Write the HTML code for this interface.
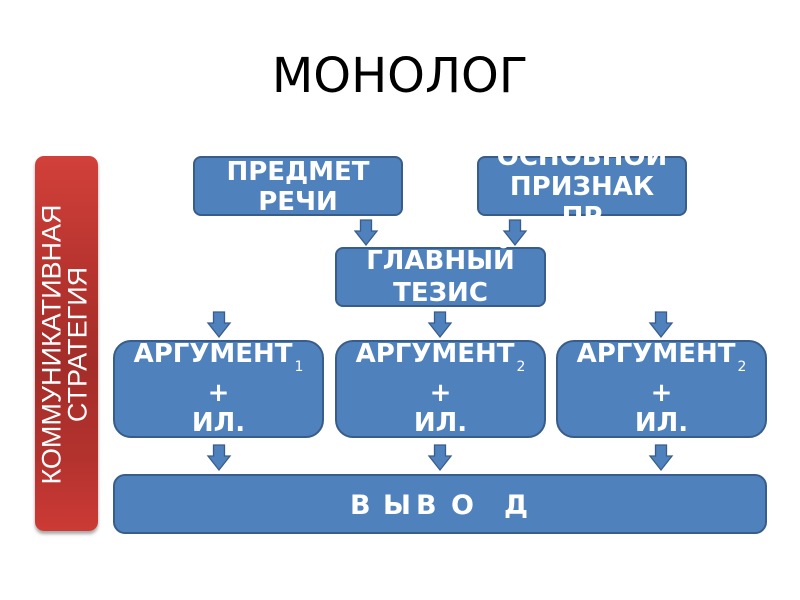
<!DOCTYPE html>
<html>
<head>
<meta charset="utf-8">
<style>
  html,body{margin:0;padding:0;background:#fff;}
  body{width:800px;height:600px;position:relative;overflow:hidden;}
  .abs{position:absolute;}
  .box{position:absolute;box-sizing:border-box;background:#4f81bd;border:2px solid #385d8a;}
  .t{position:absolute;color:#fff;font-family:"DejaVu Sans","Liberation Sans",sans-serif;font-weight:bold;font-size:26px;line-height:30px;text-align:center;white-space:nowrap;}
  .sub{font-weight:normal;font-size:14px;position:relative;top:9px;margin-left:2px;}
  .title{position:absolute;left:0;width:800px;top:48px;text-align:center;font-family:"DejaVu Sans","Liberation Sans",sans-serif;font-size:48px;line-height:56px;color:#000;}
  .red{position:absolute;left:35px;top:156px;width:63px;height:375px;border-radius:9px;
       background:linear-gradient(to bottom,#d2403a 0%,#b8342f 30%,#a42d29 55%,#b3322e 80%,#cc3a35 100%);
       box-shadow:0 3px 3px rgba(0,0,0,0.35);}
  .redtxt{position:absolute;left:-124.75px;top:318.5px;width:380px;height:51px;transform:rotate(-90deg);transform-origin:50% 50%;
          color:#fff;font-family:"Liberation Sans",sans-serif;font-size:27px;line-height:25.5px;text-align:center;white-space:nowrap;}
  .v{position:absolute;top:491px;color:#fff;font-family:"DejaVu Sans","Liberation Sans",sans-serif;font-weight:bold;font-size:27px;line-height:30px;}
</style>
</head>
<body>

<div class="title">МОНОЛОГ</div>

<div class="red"></div>
<div class="redtxt">КОММУНИКАТИВНАЯ<br>СТРАТЕГИЯ</div>

<!-- top boxes -->
<div class="box" style="left:193px;top:156px;width:210px;height:60px;border-radius:8px;"></div>
<div class="t" style="left:193px;width:210px;top:157px;">ПРЕДМЕТ</div>
<div class="t" style="left:193px;width:210px;top:187px;">РЕЧИ</div>

<div class="box" style="left:477px;top:156px;width:210px;height:60px;border-radius:8px;"></div>
<div class="abs" style="left:477px;top:152px;width:210px;height:65px;overflow:hidden;">
  <div class="t" style="left:0;width:210px;top:-10px;">ОСНОВНОЙ</div>
  <div class="t" style="left:0;width:210px;top:20px;">ПРИЗНАК</div>
  <div class="t" style="left:0;width:210px;top:50px;">ПР</div>
</div>

<div class="box" style="left:335px;top:247px;width:211px;height:60px;border-radius:8px;"></div>
<div class="t" style="left:335px;width:211px;top:246px;">ГЛАВНЫЙ</div>
<div class="t" style="left:335px;width:211px;top:278px;">ТЕЗИС</div>

<!-- argument boxes -->
<div class="box" style="left:113px;top:340px;width:211px;height:98px;border-radius:18px;"></div>
<div class="t" style="left:113px;width:211px;top:339px;">АРГУМЕНТ<span class="sub">1</span></div>
<div class="t" style="left:113px;width:211px;top:378px;">+</div>
<div class="t" style="left:113px;width:211px;top:408px;">ИЛ.</div>

<div class="box" style="left:335px;top:340px;width:211px;height:98px;border-radius:18px;"></div>
<div class="t" style="left:335px;width:211px;top:339px;">АРГУМЕНТ<span class="sub">2</span></div>
<div class="t" style="left:335px;width:211px;top:378px;">+</div>
<div class="t" style="left:335px;width:211px;top:408px;">ИЛ.</div>

<div class="box" style="left:556px;top:340px;width:211px;height:98px;border-radius:18px;"></div>
<div class="t" style="left:556px;width:211px;top:339px;">АРГУМЕНТ<span class="sub">2</span></div>
<div class="t" style="left:556px;width:211px;top:378px;">+</div>
<div class="t" style="left:556px;width:211px;top:408px;">ИЛ.</div>

<!-- conclusion -->
<div class="box" style="left:113px;top:474px;width:654px;height:60px;border-radius:12px;"></div>
<div class="v" style="left:350px;">В</div>
<div class="v" style="left:383px;">Ы</div>
<div class="v" style="left:416px;">В</div>
<div class="v" style="left:451px;">О</div>
<div class="v" style="left:504px;">Д</div>

<!-- arrows -->
<svg class="abs" style="left:0;top:0;" width="800" height="600" viewBox="0 0 800 600">
  <defs>
    <polygon id="arr" points="5.5,0 16.5,0 16.5,11 22,11 11,25 0,11 5.5,11" fill="#4f81bd" stroke="#385d8a" stroke-width="1.3" stroke-linejoin="miter"/>
  </defs>
  <use href="#arr" x="355" y="220"/>
  <use href="#arr" x="504" y="220"/>
  <use href="#arr" x="208" y="312"/>
  <use href="#arr" x="429" y="312"/>
  <use href="#arr" x="650" y="312"/>
  <use href="#arr" x="208" y="445"/>
  <use href="#arr" x="429" y="445"/>
  <use href="#arr" x="650" y="445"/>
</svg>

</body>
</html>
